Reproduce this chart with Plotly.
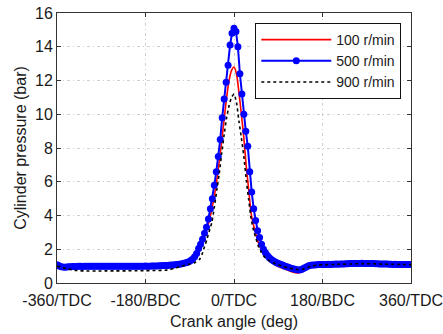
import plotly.graph_objects as go

# ---------------- data ----------------
# Blue series (500 r/min) sampled every 4 degrees from -360 to 360
angle_500 = list(range(-360, 361, 4))
p_500 = [
    1.08, 1.02, 0.97, 0.95, 0.94, 0.95, 0.96, 0.97, 0.98, 0.98,
    0.98, 0.99, 0.99, 0.98, 0.99, 0.99, 1.00, 0.99, 0.99, 1.00,
    1.00, 0.99, 1.00, 1.00, 0.99, 1.00, 1.00, 1.00, 0.99, 1.00,
    1.00, 1.00, 0.99, 1.00, 1.00, 1.00, 1.00, 0.99, 1.00, 1.00,
    1.00, 1.00, 1.00, 1.00, 1.00, 1.01, 1.00, 1.00, 1.01, 1.01,
    1.01, 1.01, 1.02, 1.02, 1.03, 1.03, 1.04, 1.05, 1.06, 1.07,
    1.08, 1.09, 1.11, 1.13, 1.15, 1.18, 1.21, 1.26, 1.33, 1.42,
    1.55, 1.75, 2.05, 2.30, 2.60, 2.95, 3.30, 3.80, 4.40, 5.00,
    5.80, 6.60, 7.50, 8.50, 9.80, 10.9, 11.9, 12.9, 14.1, 14.8,
    15.1, 14.9, 14.0, 12.4, 11.2, 10.0, 9.00, 8.10, 6.60, 5.40,
    4.40, 3.70, 3.10, 2.70, 2.30, 2.00, 1.80, 1.63, 1.50, 1.40,
    1.32, 1.25, 1.19, 1.14, 1.09, 1.05, 1.00, 0.96, 0.92, 0.88,
    0.85, 0.81, 0.78, 0.77, 0.79, 0.84, 0.90, 0.97, 1.02, 1.05,
    1.06, 1.07, 1.08, 1.09, 1.09, 1.10, 1.10, 1.10, 1.11, 1.10,
    1.11, 1.11, 1.12, 1.11, 1.12, 1.13, 1.13, 1.14, 1.14, 1.15,
    1.15, 1.16, 1.16, 1.15, 1.16, 1.17, 1.16, 1.16, 1.15, 1.16,
    1.15, 1.15, 1.14, 1.14, 1.13, 1.13, 1.12, 1.12, 1.12, 1.11,
    1.11, 1.10, 1.11, 1.10, 1.10, 1.10, 1.10, 1.09, 1.10, 1.09,
    1.10,
]

# Red / black series on a shared (non-uniform) angle grid
angle_rb = [-360, -340, -320, -300, -280, -260, -240, -220, -200, -180, -160, -140,
            -130, -120, -110, -100, -90, -80, -70,
            -65, -60, -55, -50, -45, -40, -35, -30, -25, -20, -15, -10, -5, 0,
            5, 10, 15, 20, 25, 30, 35, 40, 45, 50, 55, 60, 65, 70,
            80, 90, 100, 110, 120, 130, 140, 150, 160, 170, 180,
            200, 220, 240, 260, 280, 300, 320, 340, 360]
p_100 = [1.02, 0.98, 0.98, 0.98, 0.98, 0.98, 0.98, 0.98, 0.98, 0.99, 1.00, 1.02,
         1.04, 1.06, 1.10, 1.15, 1.25, 1.50, 2.00,
         2.35, 2.75, 3.20, 3.75, 4.40, 5.15, 6.10, 7.20, 8.40, 9.70, 11.0, 12.0, 12.6, 12.8,
         12.4, 11.3, 10.0, 8.60, 6.90, 5.50, 4.10, 3.40, 2.85, 2.35, 2.00, 1.75, 1.55, 1.38,
         1.15, 0.98, 0.86, 0.75, 0.64, 0.60, 0.68, 0.88, 1.00, 1.02, 1.02,
         1.03, 1.04, 1.05, 1.05, 1.05, 1.05, 1.04, 1.04, 1.04]
p_900 = [1.00, 0.85, 0.74, 0.71, 0.71, 0.72, 0.72, 0.72, 0.73, 0.73, 0.74, 0.76,
         0.80, 0.88, 0.97, 1.05, 1.12, 1.20, 1.40,
         1.70, 2.15, 2.60, 3.10, 3.60, 4.50, 5.50, 6.50, 7.70, 8.80, 9.80, 10.5, 11.0, 11.2,
         10.7, 9.60, 8.60, 7.50, 6.10, 4.90, 3.80, 3.10, 2.60, 2.15, 1.85, 1.62, 1.47, 1.36,
         1.20, 1.08, 0.98, 0.90, 0.84, 0.80, 0.82, 0.92, 1.02, 1.06, 1.08,
         1.10, 1.11, 1.13, 1.15, 1.14, 1.12, 1.11, 1.10, 1.09]

x_tickvals = [-360, -180, 0, 180, 360]
x_ticktext = ["-360/TDC", "-180/BDC", "0/TDC", "180/BDC", "360/TDC"]
y_tickvals = [0, 2, 4, 6, 8, 10, 12, 14, 16]

FONT = "Liberation Sans, Arial, sans-serif"
TXT = "#1a1a1a"

fig = go.Figure()
fig.add_trace(go.Scatter(x=angle_rb, y=p_100, name="100 r/min", mode="lines",
                         line=dict(color="#ff0000", width=1.6, shape="spline", smoothing=0.6)))
fig.add_trace(go.Scatter(x=angle_500, y=p_500, name="500 r/min", mode="lines+markers",
                         line=dict(color="#0000ff", width=2),
                         marker=dict(color="#0000ff", size=7)))
fig.add_trace(go.Scatter(x=angle_rb, y=p_900, name="900 r/min", mode="lines",
                         line=dict(color="#000000", width=1.6, dash="dot", shape="spline", smoothing=0.6)))

axis_common = dict(
    showline=True, linecolor="#333333", linewidth=1, mirror="ticks",
    ticks="inside", ticklen=4, tickcolor="#333333",
    showgrid=True, gridcolor="#d0d0d0", griddash="3px,3px,1px,3px", gridwidth=1,
    zeroline=False, ticklabeloverflow="allow", automargin=False,
    tickfont=dict(family=FONT, size=16, color=TXT),
)

fig.update_layout(
    width=443, height=334,
    margin=dict(l=57, r=32, t=13, b=51, autoexpand=False),
    paper_bgcolor="white", plot_bgcolor="white",
    font=dict(family=FONT, size=16, color=TXT),
    xaxis=dict(range=[-360, 360], tickvals=x_tickvals, ticktext=x_ticktext,
               ticklabelstandoff=3,
               title=dict(text="Crank angle (deg)", font=dict(family=FONT, size=16, color=TXT), standoff=7),
               **axis_common),
    yaxis=dict(range=[0, 16], tickvals=y_tickvals,
               title=dict(text="Cylinder pressure (bar)", font=dict(family=FONT, size=16, color=TXT), standoff=4),
               **axis_common),
    legend=dict(x=0.9726, y=0.963, xanchor="right", yanchor="top",
                bgcolor="white", bordercolor="#111111", borderwidth=1,
                font=dict(family=FONT, size=14, color=TXT),
                itemwidth=70, tracegroupgap=0),
    showlegend=True,
)

fig.write_html("out.html")
